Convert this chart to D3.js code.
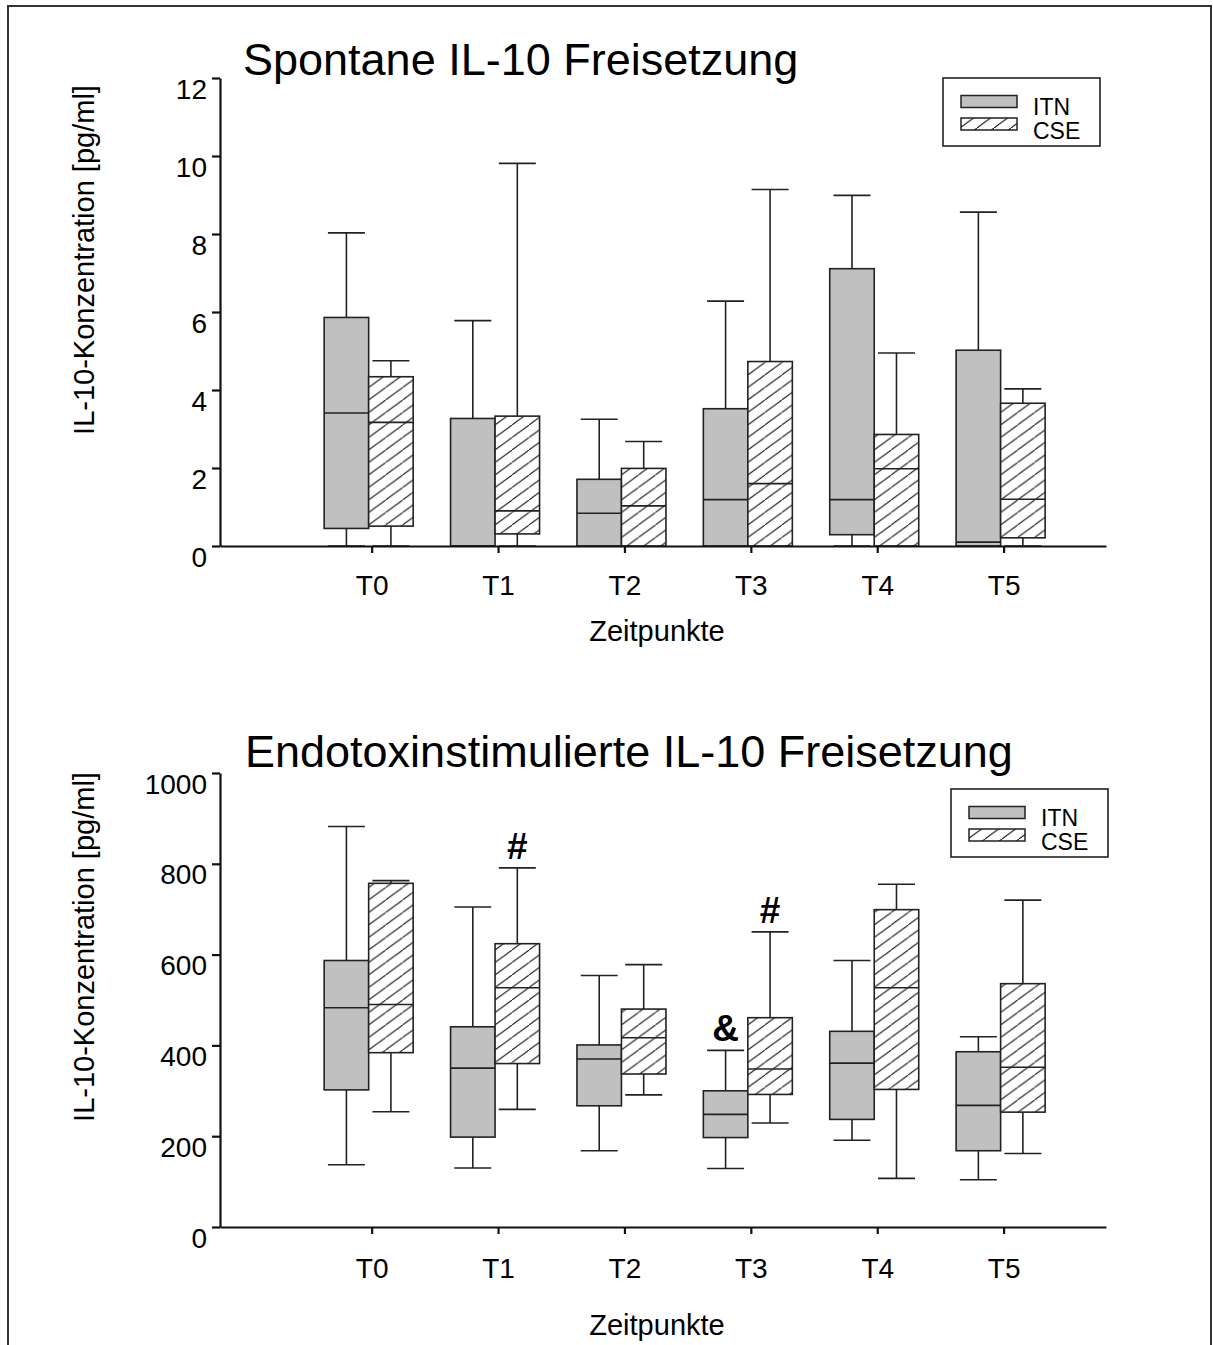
<!DOCTYPE html>
<html>
<head>
<meta charset="utf-8">
<script src="https://cdn.jsdelivr.net/npm/d3@7"></script>
<style>
body { margin: 0; background: #fff; }
svg { display: block; font-family: Arial, "Liberation Sans", sans-serif; }
</style>
</head>
<body>
<svg id="chart" width="1213" height="1345"></svg>
<script>
// time points and groups
var categories = ["T0", "T1", "T2", "T3", "T4", "T5"];
var groups = ["ITN", "CSE"];

// box values per time point: [min, q1, median, q3, max]
var spontITN = [[0, 0.45, 3.41, 5.86, 8.03], [0, 0, 0, 3.27, 5.78], [0, 0, 0.84, 1.71, 3.25],
                [0, 0, 1.19, 3.52, 6.28], [0, 0.29, 1.19, 7.11, 8.99], [0, 0, 0.10, 5.02, 8.56]];
var spontCSE = [[0, 0.51, 3.17, 4.34, 4.75], [0, 0.31, 0.90, 3.33, 9.81], [0, 0, 1.03, 1.99, 2.68],
                [0, 0, 1.60, 4.73, 9.14], [0, 0, 1.98, 2.86, 4.95], [0, 0.21, 1.20, 3.66, 4.03]];
var endoITN = [[137, 302, 483, 587, 882], [130, 198, 350, 441, 705], [168, 267, 370, 401, 554],
               [129, 197, 248, 300, 389], [191, 237, 361, 431, 587], [104, 168, 268, 386, 419]];
var endoCSE = [[254, 384, 490, 757, 763], [259, 360, 527, 624, 791], [291, 337, 417, 480, 578],
               [229, 292, 348, 461, 650], [107, 303, 527, 699, 755], [162, 253, 352, 536, 720]];

var spontTicks = [0, 2, 4, 6, 8, 10, 12];
var endoTicks = [0, 200, 400, 600, 800, 1000];

// significance marks (endotoxin panel): time point index, group index, symbol
var endoMarks = [[1, 1, "#"], [3, 0, "&"], [3, 1, "#"]];

var font = "Arial, 'Liberation Sans', sans-serif";

var svg = d3.select("#chart");

// hatch pattern for CSE
var defs = svg.append("defs");
var hatch = defs.append("pattern")
    .attr("id", "hatch")
    .attr("patternUnits", "userSpaceOnUse")
    .attr("width", 17)
    .attr("height", 12.5);
hatch.append("rect").attr("width", 17).attr("height", 12.5).attr("fill", "#fff");
hatch.append("path")
    .attr("d", "M-1,13.2 L18,-0.7")
    .attr("stroke", "#111")
    .attr("stroke-width", 1.1);

// outer frame (open at the bottom)
svg.append("path")
    .attr("d", "M8,1345 L8,6 L1211,6 L1211,1345")
    .attr("fill", "none")
    .attr("stroke", "#333")
    .attr("stroke-width", 2);

var panels = [
  { title: "Spontane IL-10 Freisetzung", titleX: 243, titleY: 75,
    itn: spontITN, cse: spontCSE, ticks: spontTicks, max: 12,
    yTop: 78, yBottom: 546, labelY: 260, catY: 595, xTitleY: 641,
    legend: [943, 78], marks: [] },
  { title: "Endotoxinstimulierte IL-10 Freisetzung", titleX: 245, titleY: 767,
    itn: endoITN, cse: endoCSE, ticks: endoTicks, max: 1000,
    yTop: 773, yBottom: 1227, labelY: 947, catY: 1278, xTitleY: 1335,
    legend: [951, 789], marks: endoMarks }
];

var x = d3.scaleLinear()
    .domain([-1.2, 5.81])
    .range([220, 1106]);

var boxW = 44.5,
    shift = -3,
    capW = 37;

panels.forEach(function(p) {
  var y = d3.scaleLinear()
      .domain([0, p.max])
      .range([p.yBottom, p.yTop]);

  var g = svg.append("g");

  // title
  g.append("text")
      .attr("x", p.titleX)
      .attr("y", p.titleY)
      .attr("font-size", 45)
      .text(p.title);

  // y label
  g.append("text")
      .attr("transform", "translate(94," + p.labelY + ") rotate(-90)")
      .attr("text-anchor", "middle")
      .attr("font-size", 29)
      .text("IL-10-Konzentration [pg/ml]");

  // boxes, ITN left of the tick, CSE right of it
  var rows = [];
  p.itn.forEach(function(d, i) { rows.push({ i: i, s: 0, v: d }); });
  p.cse.forEach(function(d, i) { rows.push({ i: i, s: 1, v: d }); });

  var box = g.selectAll("g.box")
      .data(rows)
    .enter().append("g")
      .attr("class", "box")
      .attr("transform", function(d) {
          var left = x(d.i) + shift - (d.s === 0 ? boxW : 0);
          return "translate(" + left + ",0)"; });

  // whiskers
  box.append("line")
      .attr("x1", boxW / 2).attr("x2", boxW / 2)
      .attr("y1", function(d) { return y(d.v[3]); })
      .attr("y2", function(d) { return y(d.v[4]); });
  box.append("line")
      .attr("x1", boxW / 2).attr("x2", boxW / 2)
      .attr("y1", function(d) { return y(d.v[1]); })
      .attr("y2", function(d) { return y(d.v[0]); });
  box.append("line")
      .attr("x1", (boxW - capW) / 2).attr("x2", (boxW + capW) / 2)
      .attr("y1", function(d) { return y(d.v[4]); })
      .attr("y2", function(d) { return y(d.v[4]); });
  box.append("line")
      .attr("x1", (boxW - capW) / 2).attr("x2", (boxW + capW) / 2)
      .attr("y1", function(d) { return y(d.v[0]); })
      .attr("y2", function(d) { return y(d.v[0]); });

  box.selectAll("line")
      .attr("stroke", "#222")
      .attr("stroke-width", 1.6);

  box.append("rect")
      .attr("y", function(d) { return y(d.v[3]); })
      .attr("width", boxW)
      .attr("height", function(d) { return y(d.v[1]) - y(d.v[3]); })
      .attr("fill", function(d) { return d.s === 0 ? "#c0c0c0" : "url(#hatch)"; })
      .attr("stroke", "#222")
      .attr("stroke-width", 1.6);

  // median
  box.append("line")
      .attr("x1", 0).attr("x2", boxW)
      .attr("y1", function(d) { return y(d.v[2]); })
      .attr("y2", function(d) { return y(d.v[2]); })
      .attr("stroke", "#222")
      .attr("stroke-width", 1.6);

  // significance symbols above the upper cap
  g.selectAll("text.mark")
      .data(p.marks)
    .enter().append("text")
      .attr("class", "mark")
      .attr("x", function(d) { return x(d[0]) + shift + (d[1] === 0 ? -boxW / 2 : boxW / 2); })
      .attr("y", function(d) {
          var v = (d[1] === 0 ? p.itn : p.cse)[d[0]][4];
          return y(v) - 9; })
      .attr("text-anchor", "middle")
      .attr("font-size", 37)
      .attr("font-weight", "bold")
      .text(function(d) { return d[2]; });

  // y axis
  var yAxis = g.append("g")
      .attr("transform", "translate(220,0)")
      .call(d3.axisLeft(y)
          .tickValues(p.ticks)
          .tickFormat(d3.format("d"))
          .tickSize(8)
          .tickSizeOuter(0)
          .tickPadding(5));
  yAxis.attr("font-family", font).attr("font-size", 28);
  yAxis.selectAll("text")
      .attr("fill", "#000")
      .attr("dy", "0.72em");

  // x axis
  var xAxis = g.append("g")
      .attr("transform", "translate(0," + p.yBottom + ")")
      .call(d3.axisBottom(x)
          .tickValues(d3.range(categories.length))
          .tickFormat(function(i) { return categories[i]; })
          .tickSize(7)
          .tickSizeOuter(0));
  xAxis.attr("font-family", font).attr("font-size", 28);
  xAxis.selectAll("text")
      .attr("fill", "#000")
      .attr("y", p.catY - p.yBottom)
      .attr("dy", 0);

  svg.selectAll(".domain, .tick line")
      .attr("stroke", "#111")
      .attr("stroke-width", 2.2);

  // x title
  g.append("text")
      .attr("x", 657)
      .attr("y", p.xTitleY)
      .attr("text-anchor", "middle")
      .attr("font-size", 29)
      .text("Zeitpunkte");

  // legend
  var lg = g.append("g")
      .attr("transform", "translate(" + p.legend[0] + "," + p.legend[1] + ")");
  lg.append("rect")
      .attr("width", 157)
      .attr("height", 68)
      .attr("fill", "#fff")
      .attr("stroke", "#222")
      .attr("stroke-width", 1.6);
  var item = lg.selectAll("g.item")
      .data(groups)
    .enter().append("g")
      .attr("class", "item");
  item.append("rect")
      .attr("x", 18)
      .attr("y", function(d, i) { return 17.5 + i * 22.5; })
      .attr("width", 56)
      .attr("height", 12)
      .attr("fill", function(d, i) { return i === 0 ? "#c0c0c0" : "url(#hatch)"; })
      .attr("stroke", "#222")
      .attr("stroke-width", 1.5);
  item.append("text")
      .attr("x", 90)
      .attr("y", function(d, i) { return 37 + i * 24; })
      .attr("font-size", 23)
      .text(function(d) { return d; });
});
</script>
</body>
</html>
